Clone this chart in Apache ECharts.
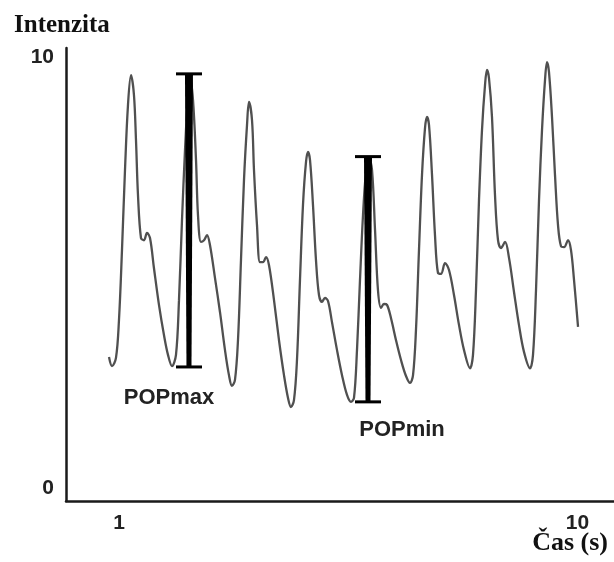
<!DOCTYPE html>
<html>
<head>
<meta charset="utf-8">
<script src="https://cdn.jsdelivr.net/npm/echarts@6/dist/echarts.min.js"></script>
<style>
  html, body { margin: 0; padding: 0; background: #fff; }
  #chart { width: 614px; height: 562px; }
</style>
</head>
<body>
<div id="chart"></div>
<script>
// Pulse-oximetry waveform: time (s) and signal intensity, one line per beat
const time = [
  0.804, 0.863, 0.941, 1.000, 1.059, 1.118, 1.177, 1.236, 1.294, 1.334, 1.373, 1.432, 1.491, 1.550, 1.609, 1.687, 1.785, 1.883, 1.962, 2.040,
  2.119, 2.178, 2.237, 2.296, 2.355, 2.394, 2.453, 2.512, 2.551, 2.610, 2.669, 2.728, 2.786, 2.885, 2.983, 3.081, 3.159, 3.218,
  3.277, 3.336, 3.395, 3.454, 3.513, 3.552, 3.611, 3.650, 3.709, 3.768, 3.827, 3.886, 3.945, 4.043, 4.141, 4.239, 4.318, 4.376,
  4.435, 4.494, 4.553, 4.612, 4.671, 4.710, 4.750, 4.808, 4.867, 4.926, 4.985, 5.044, 5.103, 5.181, 5.280, 5.378, 5.476, 5.554,
  5.613, 5.672, 5.731, 5.790, 5.849, 5.908, 5.967, 6.026, 6.084, 6.143, 6.202, 6.261, 6.340, 6.438, 6.536, 6.634, 6.713,
  6.772, 6.830, 6.889, 6.948, 7.007, 7.046, 7.086, 7.145, 7.203, 7.262, 7.321, 7.400, 7.478, 7.576, 7.675, 7.773, 7.890,
  7.949, 8.008, 8.067, 8.126, 8.185, 8.224, 8.263, 8.322, 8.381, 8.440, 8.499, 8.578, 8.656, 8.754, 8.852, 8.950, 9.068,
  9.127, 9.186, 9.245, 9.304, 9.363, 9.402, 9.441, 9.500, 9.559, 9.618, 9.677, 9.736, 9.814, 9.873, 9.932, 10.011
];
const intensity = [
  3.04, 2.83, 3.02, 3.90, 5.52, 7.38, 8.89, 9.58, 9.12, 8.07, 6.80, 5.80, 5.75, 5.92, 5.80, 5.10, 4.25, 3.55, 3.09, 2.83,
  3.09, 4.36, 6.22, 7.84, 9.12, 9.51, 9.00, 7.61, 6.33, 5.71, 5.75, 5.87, 5.64, 4.87, 4.08, 3.20, 2.62, 2.37,
  2.51, 3.43, 5.29, 7.15, 8.42, 8.96, 8.54, 7.38, 6.10, 5.24, 5.24, 5.36, 5.17, 4.36, 3.43, 2.62, 2.09, 1.88,
  2.04, 2.97, 4.83, 6.57, 7.56, 7.80, 7.61, 6.57, 5.29, 4.48, 4.32, 4.41, 4.34, 3.85, 3.20, 2.62, 2.16, 2.00,
  2.09, 3.20, 4.83, 6.33, 7.33, 7.66, 7.38, 5.99, 4.59, 4.18, 4.27, 4.25, 3.94, 3.43, 2.97, 2.60, 2.44,
  2.62, 3.67, 5.52, 7.26, 8.35, 8.61, 8.42, 7.26, 5.87, 4.99, 4.97, 5.22, 5.06, 4.48, 3.78, 3.20, 2.78,
  3.09, 4.59, 6.68, 8.31, 9.35, 9.70, 9.51, 8.61, 6.80, 5.75, 5.57, 5.71, 5.34, 4.55, 3.78, 3.16, 2.78,
  3.09, 4.59, 6.68, 8.31, 9.47, 9.88, 9.65, 8.61, 7.26, 6.10, 5.61, 5.59, 5.75, 5.52, 4.83, 3.74
];

// Peak-to-trough amplitude markers
const markerNames = ['POPmax', 'POPmin'];
const markerTime = [2.374, 5.888];
const markerLow = [2.81, 2.00];
const markerHigh = [9.61, 7.69];

// Axis tick labels
const xTicks = [1, 10];
const yTicks = [0, 10];

const axisColor = '#1a1a1a';
const tickFont = { fontFamily: 'Liberation Sans', fontWeight: 'bold', fontSize: 21, color: '#222' };
// label placement relative to each marker's lower end (px)
const labelShift = [[-20, 31], [34, 28]];

const chart = echarts.init(document.getElementById('chart'), null, { renderer: 'canvas' });

chart.setOption({
  animation: false,
  backgroundColor: '#fff',
  title: [
    {
      text: 'Intenzita', left: 9, top: 8,
      textStyle: { fontFamily: 'Liberation Serif', fontWeight: 'bold', fontSize: 25, color: '#111' }
    },
    {
      text: 'Čas (s)', right: 1, top: 525,
      textStyle: { fontFamily: 'Liberation Serif', fontWeight: 'bold', fontSize: 26, color: '#111' }
    }
  ],
  grid: { left: 66, right: 0, top: 48, bottom: 61, containLabel: false },
  xAxis: {
    type: 'value', min: -0.04, max: 10.717,
    axisLine: { show: true, onZero: false, lineStyle: { color: axisColor, width: 2.5 } },
    axisTick: { show: false },
    splitLine: { show: false },
    axisLabel: { customValues: xTicks, margin: 12, ...tickFont }
  },
  yAxis: {
    type: 'value', min: -0.30, max: 10.21,
    axisLine: { show: true, onZero: false, lineStyle: { color: axisColor, width: 2.5 } },
    axisTick: { show: false },
    splitLine: { show: false },
    axisLabel: { customValues: yTicks, margin: 12, ...tickFont }
  },
  series: [
    {
      type: 'line',
      data: time.map((t, i) => [t, intensity[i]]),
      showSymbol: false,
      smooth: 0.35,
      lineStyle: { color: '#505050', width: 2.3 },
      z: 2
    },
    {
      type: 'custom',
      data: markerTime.map((t, i) => [t, markerLow[i], markerHigh[i]]),
      encode: { x: 0, y: [1, 2] },
      clip: false,
      z: 3,
      renderItem: function (params, api) {
        const t = api.value(0);
        const top = api.coord([t, api.value(2)]);
        const bot = api.coord([t, api.value(1)]);
        const cap = 13;
        const shift = labelShift[params.dataIndex];
        return {
          type: 'group',
          children: [
            {
              type: 'polygon',
              shape: { points: [[top[0] - 4, top[1]], [top[0] + 4, top[1]], [bot[0] + 2.5, bot[1]], [bot[0] - 2.5, bot[1]]] },
              style: { fill: '#000' }
            },
            {
              type: 'line',
              shape: { x1: top[0] - cap, y1: top[1], x2: top[0] + cap, y2: top[1] },
              style: { stroke: '#000', lineWidth: 3 }
            },
            {
              type: 'line',
              shape: { x1: bot[0] - cap, y1: bot[1], x2: bot[0] + cap, y2: bot[1] },
              style: { stroke: '#000', lineWidth: 3 }
            },
            {
              type: 'text',
              x: bot[0] + shift[0], y: bot[1] + shift[1],
              style: {
                text: markerNames[params.dataIndex],
                fill: '#222',
                font: 'bold 22px "Liberation Sans"',
                align: 'center',
                verticalAlign: 'middle'
              }
            }
          ]
        };
      }
    }
  ]
});
</script>
</body>
</html>
